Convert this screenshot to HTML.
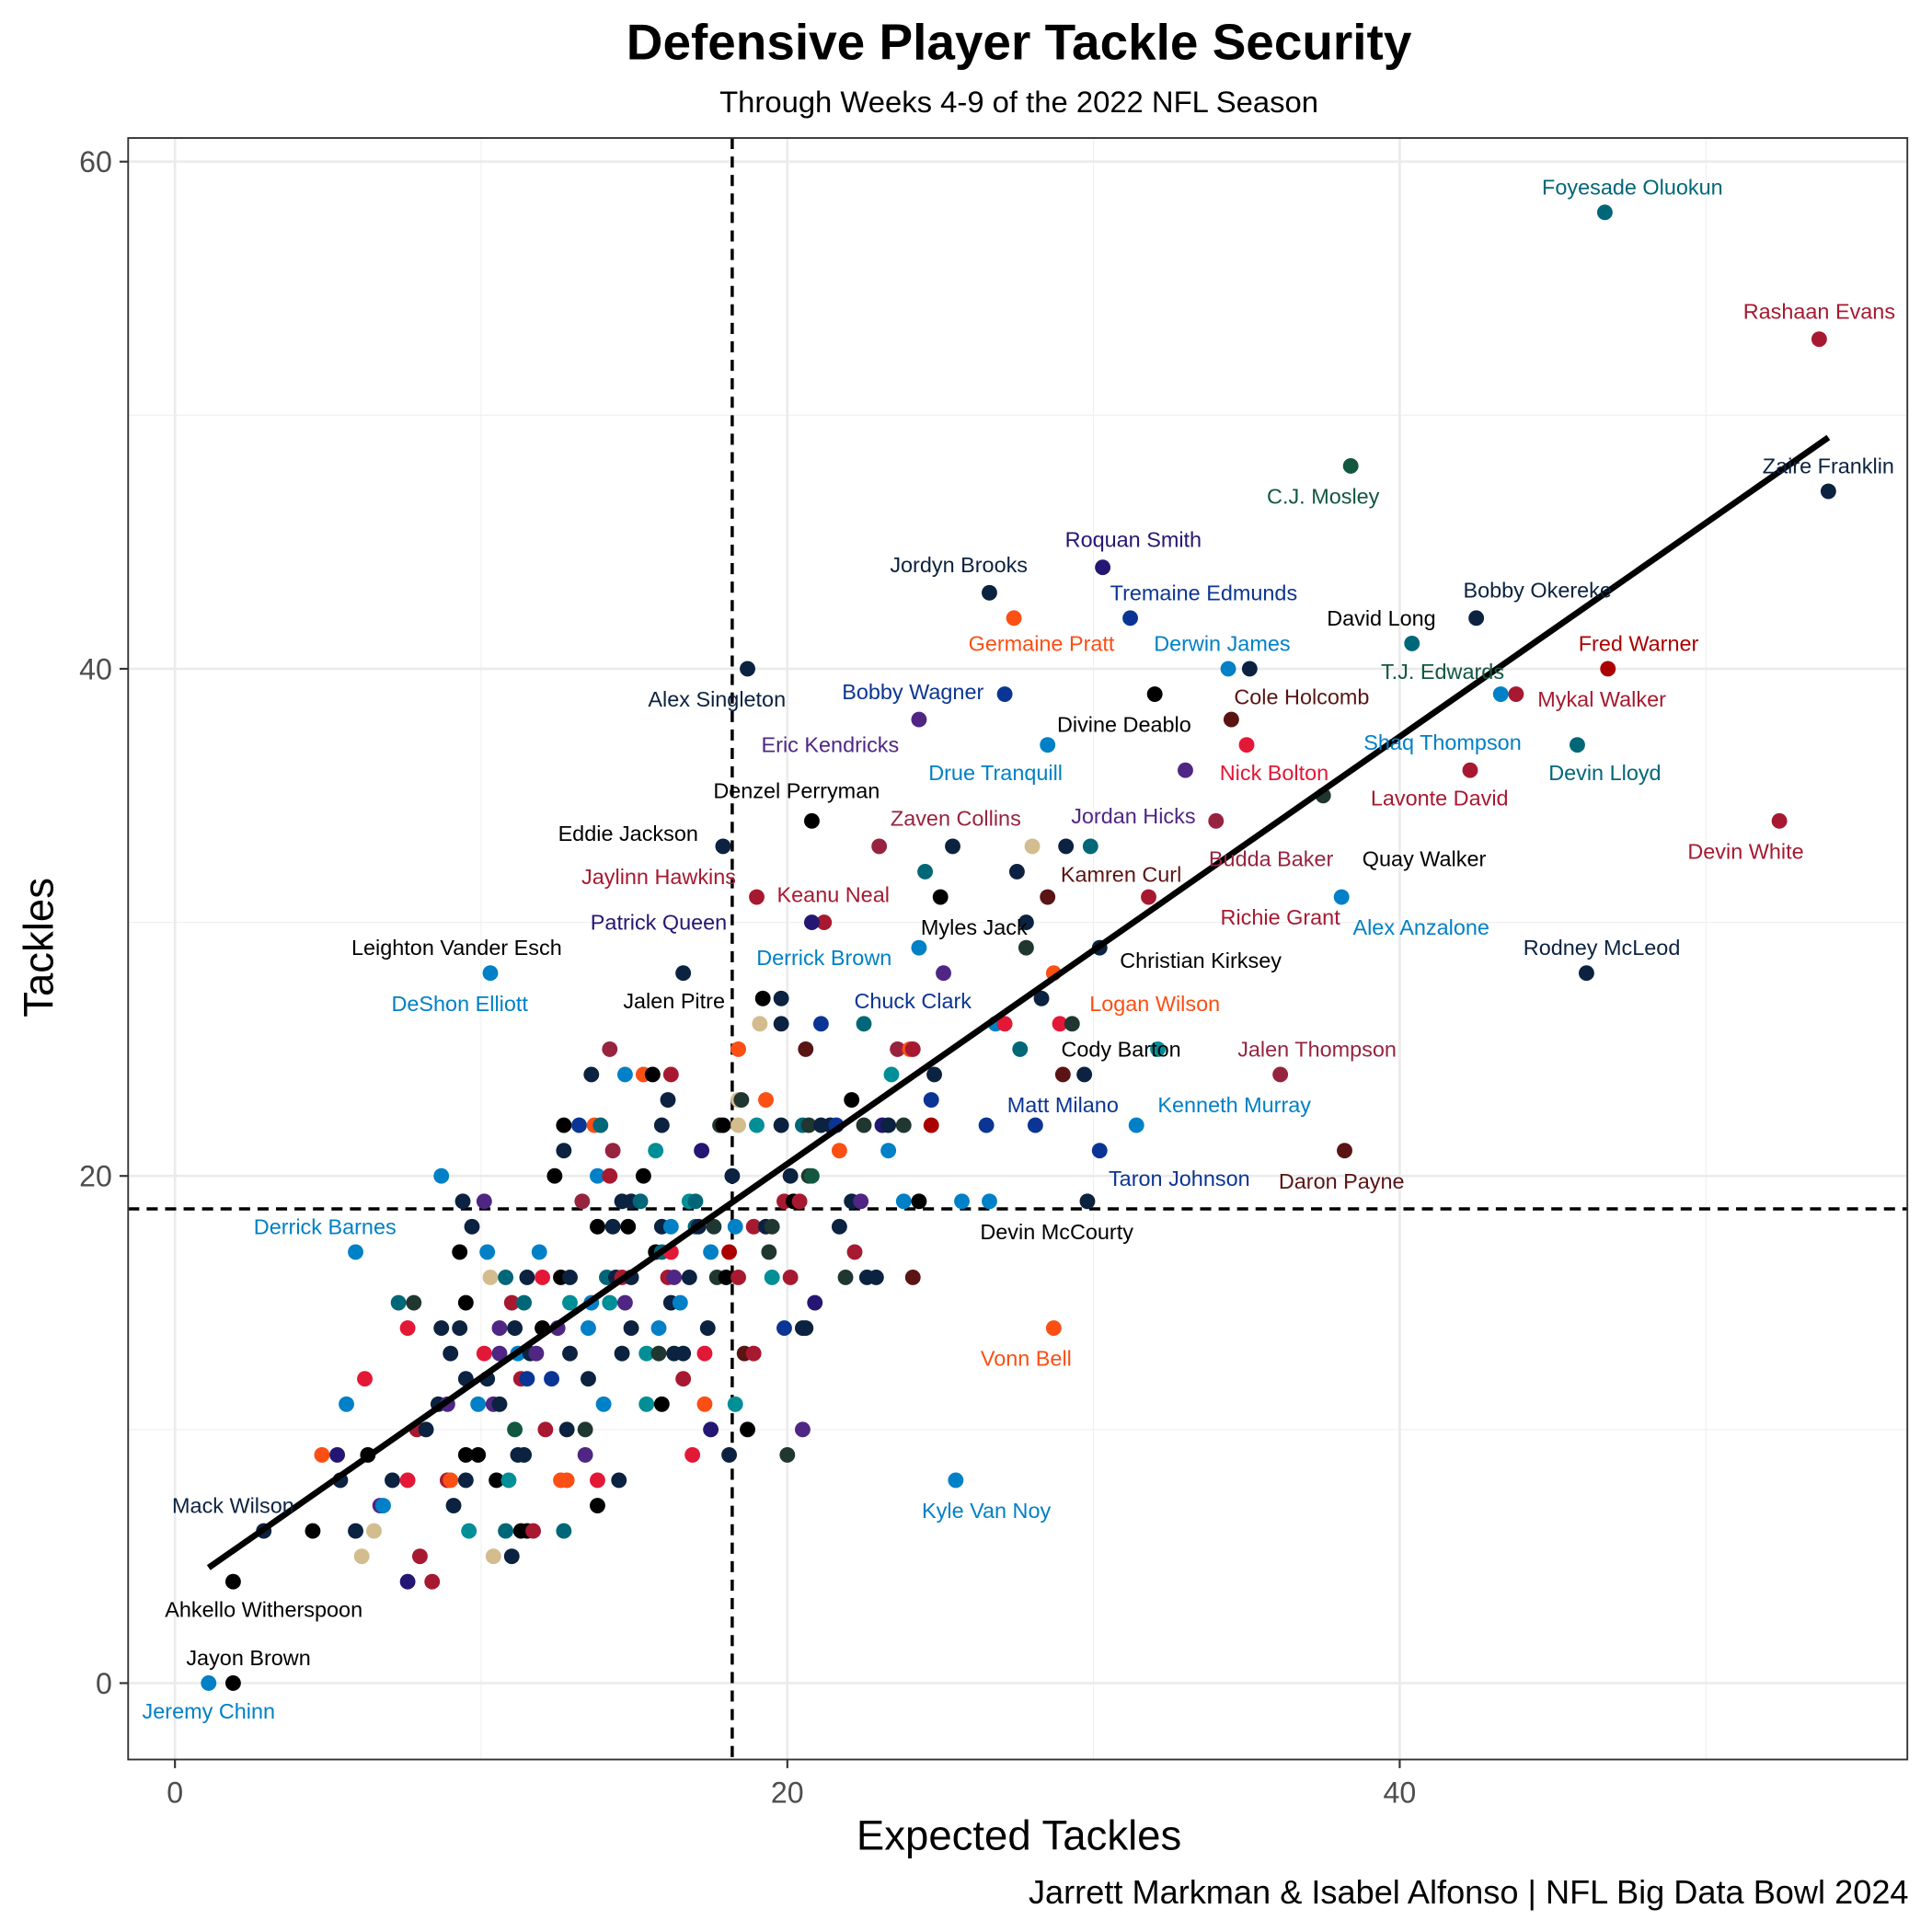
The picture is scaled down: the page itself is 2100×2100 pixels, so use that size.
<!DOCTYPE html>
<html><head><meta charset="utf-8"><title>Defensive Player Tackle Security</title>
<style>
html,body{margin:0;padding:0;background:#fff;}
svg{display:block;font-family:"Liberation Sans",Arial,sans-serif;}
</style></head>
<body>
<svg id="chart" width="2100" height="2100" viewBox="0 0 1568 1568" xmlns="http://www.w3.org/2000/svg">
<text x="827" y="48" text-anchor="middle" font-size="41" font-weight="bold">Defensive Player Tackle Security</text>
<text x="827" y="91" text-anchor="middle" font-size="24.5">Through Weeks 4-9 of the 2022 NFL Season</text>
<text x="1549" y="1545" text-anchor="end" font-size="27">Jarrett Markman &amp; Isabel Alfonso | NFL Big Data Bowl 2024</text>
<text x="827" y="1501" text-anchor="middle" font-size="34">Expected Tackles</text>
<text transform="translate(43,769) rotate(-90)" text-anchor="middle" font-size="34">Tackles</text>
<g id="grid"></g>
<g id="refs"></g>
<g id="pts"></g>
<g id="fit"></g>
<g id="lbls"></g>
<rect x="104" y="112" width="1444" height="1316" fill="none" stroke="#333" stroke-width="1.4"/>
<g id="axes"></g>
</svg>
<script>
// ---- data ----
const palette = {K:"#000000",N:"#0b2240",B:"#0b3594",L:"#0080c6",T:"#006778",Q:"#008e97",G:"#203731",E:"#125740",R:"#a71930",M:"#97233f",D:"#5a1414",O:"#fb4f14",P:"#4f2683",V:"#241773",F:"#d3bc8d",S:"#e31837",A:"#aa0000"};
const tackleRows = [
[58,"46.7T"],[53,"53.7R"],[48,"38.4E"],[47,"54.0N"],[44,"30.3V"],[43,"26.6N"],
[42,"27.4O 31.2B 42.5N"],[41,"40.4T"],[40,"18.7N 34.4L 35.1N 46.8A"],
[39,"32.0K 27.1B 43.8R 43.3L"],[38,"34.5D 24.3P"],[37,"28.5L 35.0S 45.8T"],
[36,"33.0P 42.3R"],[35,"37.5G"],[34,"34.0M 20.8K 52.4R"],
[33,"17.9N 23.0M 25.4N 28.0F 29.1N 29.9T"],[32,"24.5T 27.5N"],
[31,"19.0R 25.0K 28.5D 31.8R 38.1L"],[30,"21.2R 20.8V 27.8N"],[29,"30.2N 24.3L 27.8G"],
[28,"16.6N 10.3L 46.1N 25.1P 28.7O"],
[27,"19.2K 19.8N 28.3N"],
[26,"19.1F 19.8N 21.1B 22.5T 26.8L 27.1S 28.9S 29.3G"],
[25,"14.2M 18.4O 20.6D 23.6M 24.0O 24.1R 27.6T 32.1Q"],
[24,"13.6N 14.7L 15.3O 15.6K 16.2R 23.4Q 24.8N 29.0D 29.7N 36.1M"],
[23,"16.1N 18.4F 18.5G 19.3O 22.1K 24.7B"],
[22,"12.7K 13.2B 13.7O 13.9T 15.9N 17.8G 17.9K 18.4F 19.0Q 19.8N 20.5T 20.7G 21.1N 21.4N 21.6B 22.5G 23.1V 23.3N 23.8G 24.7A 26.5B 28.1B 31.4L"],
[21,"12.7N 14.3M 15.7Q 17.2V 21.7O 23.3L 30.2B 38.2D"],
[20,"8.7L 12.4K 13.8L 14.2R 15.3K 18.2N 20.1N 20.7G 20.8E"],
[19,"9.4N 10.1P 13.3M 14.6N 14.9N 15.2T 16.8Q 17.0T 19.9R 20.2K 20.4R 22.1N 22.4P 23.8L 24.3K 25.7L 26.6L 29.8N"],
[18,"9.7N 13.8K 14.3N 14.8K 15.9N 16.2L 17.0T 17.1N 17.6G 18.3L 18.9R 19.3N 19.5G 21.7N"],
[17,"5.9L 9.3K 10.2L 11.9L 15.7K 15.9T 16.2S 17.5L 18.1A 19.4G 22.2R"],
[16,"10.3F 10.8T 11.5N 12.0S 12.6K 12.9N 14.1T 14.4N 14.6R 14.9N 16.1R 16.3P 16.8N 17.7G 18.0K 18.4R 19.5Q 20.1R 21.9G 22.6N 22.9N 24.1D"],
[15,"7.3T 7.8G 9.5K 11.0R 11.4T 12.9Q 13.6L 14.2Q 14.7P 16.2N 16.5L 20.9V"],
[14,"7.6S 8.7N 9.3N 10.6P 11.1N 12.0K 12.5P 13.5L 14.9N 15.8L 17.4N 19.9B 20.5N 20.6N 28.7O"],
[13,"9.0N 10.1S 10.6P 11.2L 11.6N 11.8P 12.9N 14.6N 15.4Q 15.8G 16.3N 16.6N 17.3S 18.6D 18.9R"],
[12,"6.2S 9.5N 10.2N 11.3R 11.5B 12.3B 13.5N 16.6R"],
[11,"5.6L 8.6N 8.9P 9.9L 10.4P 10.6N 14.0L 15.4Q 15.9K 17.3O 18.3Q"],
[10,"7.9R 8.2N 11.1E 12.1R 12.8N 13.4G 17.5V 18.7K 20.5P"],
[9,"4.8O 5.3V 6.3K 9.5K 9.9K 11.2N 11.4N 13.4P 16.9S 18.1N 20.0G"],
[8,"5.4N 7.1N 7.6S 8.9R 9.0O 9.5N 10.5K 10.9Q 12.6O 12.8O 13.8S 14.5N 25.5L"],
[7,"6.7P 6.8L 9.1N 13.8K"],
[6,"2.9N 4.5K 5.9N 6.5F 9.6Q 10.8T 11.3K 11.5K 11.7R 12.7T"],
[5,"6.1F 8.0R 10.4F 11.0N"],
[4,"1.9K 7.6V 8.4R"],
[0,"1.1L 1.9K"]
];
// league-wide averages (dashed reference lines)
const meanExpected = [18.2];
const meanTackles = [18.7];
const playerNames = ["Foyesade Oluokun","Rashaan Evans","Zaire Franklin","C.J. Mosley","Roquan Smith","Jordyn Brooks","Tremaine Edmunds","Germaine Pratt","David Long","Bobby Okereke","Derwin James","Fred Warner","T.J. Edwards","Alex Singleton","Bobby Wagner","Divine Deablo","Cole Holcomb","Mykal Walker","Eric Kendricks","Shaq Thompson","Drue Tranquill","Nick Bolton","Devin Lloyd","Denzel Perryman","Jordan Hicks","Lavonte David","Zaven Collins","Eddie Jackson","Quay Walker","Devin White","Budda Baker","Jaylinn Hawkins","Kamren Curl","Keanu Neal","Richie Grant","Alex Anzalone","Patrick Queen","Myles Jack","Leighton Vander Esch","Rodney McLeod","Derrick Brown","Christian Kirksey","DeShon Elliott","Jalen Pitre","Chuck Clark","Logan Wilson","Cody Barton","Jalen Thompson","Matt Milano","Kenneth Murray","Taron Johnson","Daron Payne","Devin McCourty","Derrick Barnes","Vonn Bell","Kyle Van Noy","Mack Wilson","Ahkello Witherspoon","Jayon Brown","Jeremy Chinn"];
const labelX = [47.6,53.7,54.0,37.5,31.3,25.6,33.6,28.3,39.4,44.5,34.2,47.8,41.4,17.7,24.1,31.0,36.8,46.6,21.4,41.4,26.8,35.9,46.7,20.3,31.3,41.3,25.5,14.8,40.8,51.3,35.8,15.8,30.9,21.5,36.1,40.7,15.8,26.1,9.2,46.6,21.2,33.5,9.3,16.3,24.1,32.0,30.9,37.3,29.0,34.6,32.8,38.1,28.8,4.9,27.8,26.5,1.9,2.9,2.4,1.1];
const labelY = [59.0,54.1,48.0,46.8,45.1,44.1,43.0,41.0,42.0,43.1,41.0,41.0,39.9,38.8,39.1,37.8,38.9,38.8,37.0,37.1,35.9,35.9,35.9,35.2,34.2,34.9,34.1,33.5,32.5,32.8,32.5,31.8,31.9,31.1,30.2,29.8,30.0,29.8,29.0,29.0,28.6,28.5,26.8,26.9,26.9,26.8,25.0,25.0,22.8,22.8,19.9,19.8,17.8,18.0,12.8,6.8,7.0,2.9,1.0,-1.1];
const labelColor = "TRNEVNBOKNLAENBKDRPLLSTKPRMKKRMRDRRLVKKNLKLKBOKMBLBDKLOLNKKL";
const xTicks = [0,20,40];
const yTicks = [0,20,40,60];

// ---- scales ----
const sx = v => 142 + v*24.85;
const sy = v => 1366 - v*20.58;
const NS = "http://www.w3.org/2000/svg";
function mk(parent, tag, attrs){const e=document.createElementNS(NS,tag);for(const k in attrs)e.setAttribute(k,attrs[k]);document.getElementById(parent).appendChild(e);return e;}

const expected=[], tackles=[], teamKey=[];
tackleRows.forEach(r=>{r[1].split(" ").forEach(tok=>{expected.push(parseFloat(tok));teamKey.push(tok.slice(-1));tackles.push(r[0]);});});

// grid
[10,30,50].forEach(v=>{const l=mk("grid","line",{x1:sx(v),x2:sx(v),y1:112,y2:1428,stroke:"#f0f0f0","stroke-width":0.9});

});
[10,30,50].forEach(v=>{const l=mk("grid","line",{x1:104,x2:1548,y1:sy(v),y2:sy(v),stroke:"#f0f0f0","stroke-width":0.9});

});
xTicks.forEach(v=>{const l=mk("grid","line",{x1:sx(v),x2:sx(v),y1:112,y2:1428,stroke:"#ebebeb","stroke-width":2});


const t=mk("axes","line",{x1:sx(v),x2:sx(v),y1:1428,y2:1435,stroke:"#333","stroke-width":1.6});


const tx=mk("axes","text",{x:sx(v),y:1463,"text-anchor":"middle","font-size":24,fill:"#4d4d4d"});tx.textContent=v;

});
yTicks.forEach(v=>{const l=mk("grid","line",{x1:104,x2:1548,y1:sy(v),y2:sy(v),stroke:"#ebebeb","stroke-width":2});


const t=mk("axes","line",{x1:97,x2:104,y1:sy(v),y2:sy(v),stroke:"#333","stroke-width":1.6});


const tx=mk("axes","text",{x:91,y:sy(v)+8.5,"text-anchor":"end","font-size":24,fill:"#4d4d4d"});tx.textContent=v;

});

// reference (mean) lines
const n=expected.length;
const vl=mk("refs","line",{x1:sx(meanExpected[0]),x2:sx(meanExpected[0]),y1:112,y2:1428,stroke:"#000","stroke-width":2.6,"stroke-dasharray":"9,6"});


const hl=mk("refs","line",{x1:104,x2:1548,y1:sy(meanTackles[0]),y2:sy(meanTackles[0]),stroke:"#000","stroke-width":2.6,"stroke-dasharray":"9,6"});



// points
for(let i=0;i<n;i++){const c=mk("pts","circle",{cx:sx(expected[i]),cy:sy(tackles[i]),r:6.3,fill:palette[teamKey[i]]});

}

// regression fit
const mx=expected.reduce((a,b)=>a+b,0)/n, my=tackles.reduce((a,b)=>a+b,0)/n;
let sxy=0,sxx=0;for(let i=0;i<n;i++){sxy+=(expected[i]-mx)*(tackles[i]-my);sxx+=(expected[i]-mx)**2;}
const slope=sxy/sxx, icpt=my-slope*mx;
const xmin=Math.min(...expected), xmax=Math.max(...expected);
const fl=mk("fit","line",{x1:sx(xmin),y1:sy(icpt+slope*xmin),x2:sx(xmax),y2:sy(icpt+slope*xmax),stroke:"#000","stroke-width":5});



// labels
playerNames.forEach((nm,i)=>{const t=mk("lbls","text",{x:sx(labelX[i]),y:sy(labelY[i])+6,"text-anchor":"middle","font-size":17.5,fill:palette[labelColor[i]]});t.textContent=nm;

});
</script>
</body></html>
